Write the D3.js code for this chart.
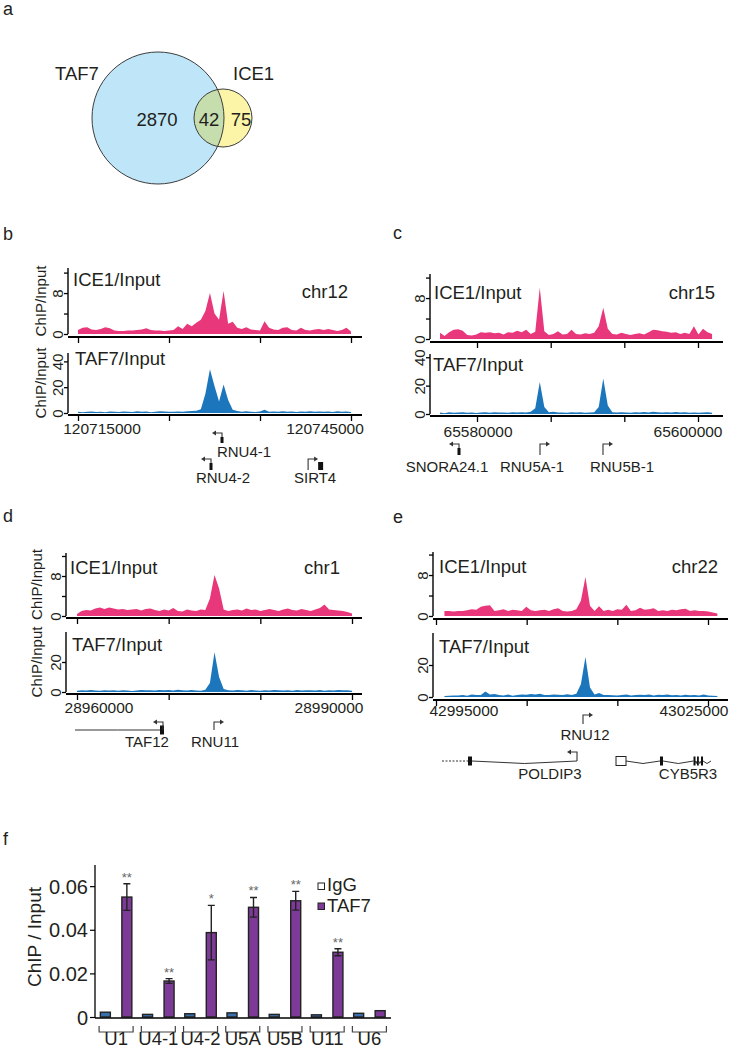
<!DOCTYPE html>
<html><head><meta charset="utf-8">
<script src="https://d3js.org/d3.v7.min.js"></script>
<style>
html,body{margin:0;padding:0;background:#fff}
svg{display:block}
text{font-family:"Liberation Sans",Arial,Helvetica,sans-serif;fill:#231f20}
</style></head><body>
<svg id="fig" width="730" height="1050"></svg>
<script>
// ================= DATA =================
// a: Venn diagram
const vennNames = ["TAF7", "ICE1"];
const vennOnly = [2870, 75];
const vennShared = 42;

// b: chr12
const bTicks = [120711770, 120724010, 120736250, 120748490];
const bLabels = [120715000, 120745000];
const bData = [120711770, 120748490];
const bICE1 = [0.8,1.2,1.3,0.9,0.8,1.0,1.3,1.1,0.7,0.6, 0.6,0.7,0.7,0.8,0.9,1.1,0.8,0.7,0.7,0.6, 0.7,0.8,1.5,1.0,2.0,1.5,2.2,2.8,4.5,8.0, 4.0,2.8,8.4,2.0,2.4,1.2,1.0,1.3,0.9,0.8, 0.7,2.5,1.2,0.9,0.8,1.2,1.3,0.8,0.7,1.2, 0.8,0.7,0.9,1.0,0.8,1.0,0.8,0.6,0.8,1.2, 0.5];
const bTAF7 = [1,0.5,1,1.2,0.8,1,0.6,1.1,1,0.7, 1.2,1,0.8,1.3,1,1.1,0.6,1,1.4,1.2, 1,0.9,1.2,1,1.3,1.5,1.8,3,15,34, 21,9,22,10,2.5,1.5,1,1.3,1,0.8, 1.2,2.5,1,1.1,0.9,1.3,1,1.2,0.8,1.1, 1,1.3,0.9,1.2,1,1.1,0.8,1.3,1,1.2, 0.7];
const bGenes = [
  {name:"RNU4-1", tss:120731140, strand:-1, row:0, label:120734100, type:"snRNA"},
  {name:"RNU4-2", tss:120729660, strand:-1, row:1, label:120731280, type:"snRNA"},
  {name:"SIRT4", tss:120742720, strand:1, row:1, label:120743660, type:"tss", blocks:[[120744070,120744740]]}
];

// c: chr15
const cTicks = [65579900, 65586920, 65593930, 65600950];
const cLabels = [65580000, 65600000];
const cData = [65576380, 65602290];
const cICE1 = [1.2,0.6,1.3,1.8,1.9,1.6,0.8,0.7,0.9,1.3, 1.2,1.3,1.1,1.2,0.9,1.3,1.2,1.6,1.3,1.8, 1.0,1.4,10.0,1.5,0.8,1.0,1.5,0.9,1.0,1.8, 1.0,0.9,1.1,1.0,1.2,2.5,6.1,2.0,1.0,0.9, 1.2,1.0,0.8,1.0,1.1,0.9,1.3,1.8,1.7,1.5, 1.4,1.2,1.3,1.0,1.2,1.0,2.5,0.9,2.0,1.3, 1.0];
const cTAF7 = [1,0.5,1.2,0.8,1,1.3,0.9,1,0.7,1.1, 1.2,0.9,1.3,1,1.1,0.8,1.2,1,1.3,1, 1.5,4,22.5,5,1.2,1.5,1,1.1,0.9,1.3, 1,1.2,0.8,1.1,1.3,5,25,6,1.2,1, 1.3,1.1,0.9,1.2,1,1.4,1.1,1.5,1.2,1, 1.3,1.1,1.4,1,1.2,0.9,1.1,0.8,1,1.2, 0.8];
const cGenes = [
  {name:"SNORA24.1", tss:65578186, strand:-1, row:0, label:65577043, type:"snRNA"},
  {name:"RNU5A-1", tss:65585900, strand:1, row:0, label:65585138, type:"tss"},
  {name:"RNU5B-1", tss:65591900, strand:1, row:0, label:65593710, type:"tss"}
];

// d: chr1
const dTicks = [28957130, 28969087, 28981043, 28993000];
const dLabels = [28960000, 28990000];
const dData = [28957130, 28993000];
const dICE1 = [0.4,1.0,1.2,1.1,1.5,1.7,1.4,1.7,1.5,1.3, 1.4,1.2,1.3,1.4,1.1,1.4,1.5,1.2,1.0,1.3, 1.1,1.6,1.0,0.9,1.3,1.1,1.0,1.3,1.2,3.5, 8.2,5.5,1.3,1.0,1.2,1.3,1.1,1.5,1.2,1.3, 1.0,1.2,1.4,1.2,1.0,1.3,1.5,1.2,1.1,1.4, 1.2,1.0,1.3,1.6,2.3,1.3,1.2,1.1,1.0,0.8, 0.5];
const dTAF7 = [0.8,1.2,1,1.3,1,0.9,1.2,1,1.1,0.8, 1.2,1,0.7,1,1.3,1.1,1.2,1,1.4,1.2, 1.3,1,1.5,1.2,1,1.3,1,0.9,1.5,6, 26.5,10,2,1.2,1,1.3,1.1,0.9,1.4,1, 0.8,1.2,1,1.3,1.1,1,1.2,0.9,1.3,1, 1.2,1.1,1,1.3,0.9,1.2,1,1.3,1.1,1.2, 0.9];
const dGenes = [
  {name:"TAF12", tss:28968348, strand:-1, row:0, label:28966260, type:"model", span:[28956869,28968348], blocks:[[28967956,28968478]], chevron:false},
  {name:"RNU11", tss:28975000, strand:1, row:0, label:28975130, type:"tss"}
];

// e: chr22
const eTicks = [42991350, 43003177, 43015003, 43026830];
const eLabels = [42995000, 43025000];
const eData = [42992450, 43028050];
const eICE1 = [1.0,1.0,0.9,1.0,1.0,1.1,1.3,1.2,1.8,2.0, 2.1,1.0,1.1,1.3,1.0,1.2,1.1,1.0,1.8,1.1, 1.0,1.1,1.2,1.0,1.3,1.5,1.0,0.9,1.0,1.3, 3.0,7.6,2.0,1.0,1.9,1.0,1.2,1.0,1.3,1.2, 2.2,1.0,1.1,1.6,1.2,1.3,1.5,1.0,1.1,1.0, 1.2,1.1,1.3,1.4,1.0,1.1,1.0,1.0,0.9,0.7, 0.5];
const eTAF7 = [0.7,0.8,1,0.9,1.2,0.8,1.5,1.2,1.3,3.5, 1.5,1.8,1.2,1,1.6,0.8,1.3,1.5,1.4,1.8, 1.5,2,1.3,1.2,1.6,1.4,1.2,1.7,1.3,2, 8,25,6,1.5,2.5,1.2,1.3,1.1,1,1.2, 1.5,1,1.3,1.4,1.2,1.5,1,1.4,1.3,1.5, 1.1,1.2,1,1.4,1.1,1.3,0.9,1.5,1,0.8, 0.6];
const eGenes = [
  {name:"RNU12", tss:43010525, strand:1, row:0, label:43010786, type:"tss"},
  {name:"POLDIP3", tss:43009743, strand:-1, row:1, label:43006221, type:"model", span:[42995524,43009743], dashed:[42992133,42995524], blocks:[[42995524,42996046]], chevron:true},
  {name:"CYB5R3", tss:null, strand:0, row:1, label:43024222, type:"model", span:[43014830,43027224], open:[[43014830,43016135]], blocks:[[43020569,43020960],[43024940,43025200],[43025397,43025593],[43025919,43026180]], chevron:true}
];

// f: ChIP-qPCR
const fGroups = ["U1","U4-1","U4-2","U5A","U5B","U11","U6"];
const fSeries = ["IgG","TAF7"];
const fIgG = [0.0022,0.0012,0.0015,0.0019,0.0012,0.0010,0.0017];
const fIgGErr = [0.0003,0.0002,0.0002,0.0003,0.0002,0.0002,0.0002];
const fTAF7 = [0.0550,0.0165,0.0387,0.0503,0.0533,0.0297,0.0029];
const fTAF7Err = [0.0061,0.0011,0.0125,0.0045,0.0043,0.0016,0.0002];
const fStars = ["**","**","*","**","**","**",""];
const fYTicks = [0, 0.02, 0.04, 0.06];

// ================= DRAWING =================
const svg = d3.select("#fig");
const INK = "#231f20", PINK = "#e8377a", BLUE = "#1c76bc", PURPLE = "#7e3a97", IGG = "#3a6fae";

// panel letters
const letters = [["a",3,15],["b",3,240],["c",393,239],["d",3,522],["e",393,523],["f",3,845]];
svg.selectAll("text.letter").data(letters).join("text").attr("class","letter")
  .attr("x", d=>d[1]).attr("y", d=>d[2]).attr("font-size", 18).text(d=>d[0]);

// ---------- a: Venn ----------
(function(){
  const r = d3.scalePow().exponent(0.256).domain([0, vennOnly[0]+vennShared]).range([0, 66]);
  const rBig = r(vennOnly[0]+vennShared), rSmall = r(vennOnly[1]+vennShared);
  const cb = [158,118], cs = [223,118];
  const g = svg.append("g");
  g.append("clipPath").attr("id","smallClip").append("circle").attr("cx",cs[0]).attr("cy",cs[1]).attr("r",rSmall);
  g.append("circle").attr("cx",cb[0]).attr("cy",cb[1]).attr("r",rBig).attr("fill","#bfe6f8");
  g.append("circle").attr("cx",cs[0]).attr("cy",cs[1]).attr("r",rSmall).attr("fill","#fcf5a8");
  g.append("circle").attr("cx",cb[0]).attr("cy",cb[1]).attr("r",rBig).attr("fill","#c6deae").attr("clip-path","url(#smallClip)");
  g.append("circle").attr("cx",cb[0]).attr("cy",cb[1]).attr("r",rBig).attr("fill","none").attr("stroke","#3d3d3d").attr("stroke-width",1);
  g.append("circle").attr("cx",cs[0]).attr("cy",cs[1]).attr("r",rSmall).attr("fill","none").attr("stroke","#3d3d3d").attr("stroke-width",1);
  const fs = 18.5;
  g.append("text").attr("x",55).attr("y",80).attr("font-size",fs).text(vennNames[0]);
  g.append("text").attr("x",233).attr("y",80).attr("font-size",fs).text(vennNames[1]);
  g.append("text").attr("x",157).attr("y",126).attr("text-anchor","middle").attr("font-size",fs).text(vennOnly[0]);
  g.append("text").attr("x",209).attr("y",126).attr("text-anchor","middle").attr("font-size",fs).text(vennShared);
  g.append("text").attr("x",241).attr("y",126).attr("text-anchor","middle").attr("font-size",fs).text(vennOnly[1]);
})();

// ---------- b-e: tracks ----------
function drawPanel(P){
  const g = svg.append("g");
  const x = d3.scaleLinear().domain([P.ticks[0], P.ticks[P.ticks.length-1]]).range(P.tickPx);
  P.tracks.forEach((T, ti) => {
    const y = d3.scaleLinear().domain([0, T.ymax]).range([T.zero, T.top]);
    const n = T.values.length;
    const pos = d3.range(n).map(i => P.data[0] + i*(P.data[1]-P.data[0])/(n-1));
    g.append("path").datum(T.values)
      .attr("d", d3.area().x((d,i)=>x(pos[i])).y0(y(0)).y1(d=>y(d)))
      .attr("fill", T.color);
    // y axis
    const ya = g.append("g").attr("transform", `translate(${P.axisX},0)`)
      .call(d3.axisLeft(y).tickValues(T.yTicks).tickSize(4).tickFormat(d => T.yLabels.includes(d) ? d : ""));
    ya.select(".domain").remove();
    ya.append("line").attr("y1", y(0)).attr("y2", y(T.ymax)).attr("stroke","#000").attr("stroke-width",1.4);
    ya.selectAll(".tick line").attr("stroke","#000").attr("stroke-width",1.3);
    ya.selectAll(".tick text").attr("x",0).attr("dy",0).attr("text-anchor","middle")
      .attr("transform","translate(-5,0) rotate(-90)").attr("font-size",15);
    // x axis
    const xa = g.append("g").attr("transform", `translate(0,${T.xAxisY})`)
      .call(d3.axisBottom(x).tickValues(P.ticks).tickSize(6).tickFormat(""));
    xa.select(".domain").remove();
    xa.selectAll(".tick line").attr("stroke","#000").attr("stroke-width",1.3);
    xa.append("line").attr("x1", P.axisX).attr("x2", P.axisRight).attr("stroke","#000").attr("stroke-width",1.8);
    // track label
    g.append("text").attr("x", T.labelX).attr("y", T.labelY).attr("font-size",18.5).text(T.name);
    if (P.yTitleX) {
      g.append("text").attr("transform", `translate(${P.yTitleX},${(y(0)+y(T.ymax))/2}) rotate(-90)`)
        .attr("text-anchor","middle").attr("font-size",15).text("ChIP/Input");
    }
  });
  g.append("text").attr("x", P.chrX).attr("y", P.chrY).attr("text-anchor","end").attr("font-size",18.5).text(P.chr);
  // genomic coordinate labels
  g.selectAll("text.gl").data(P.labels).join("text").attr("class","gl")
    .attr("x", d=>x(d)).attr("y", P.labelY).attr("text-anchor","middle").attr("font-size",15.5).text(d=>d);
  // genes
  const STK = "#333";
  P.genes.forEach(G => {
    const R = P.rows[G.row];
    const gg = g.append("g");
    if (G.type === "model") {
      if (G.dashed) gg.append("line").attr("x1",x(G.dashed[0])).attr("x2",x(G.dashed[1])).attr("y1",R.b).attr("y2",R.b)
        .attr("stroke",STK).attr("stroke-width",1).attr("stroke-dasharray","2,1.5");
      const feats = [].concat(G.open||[], G.blocks||[]).sort((a,b)=>a[0]-b[0]);
      const pts = [];
      let prev = G.span[0];
      feats.forEach(f => { if (f[0] > prev) pts.push([prev, f[0]]); prev = Math.max(prev, f[1]); });
      if (G.span[1] > prev) pts.push([prev, G.span[1]]);
      pts.forEach(s => {
        const x1 = x(s[0]), x2 = x(s[1]);
        const dip = G.chevron ? 2.5 : 0;
        gg.append("path").attr("d", `M${x1},${R.b}L${(x1+x2)/2},${R.b+dip}L${x2},${R.b}`)
          .attr("fill","none").attr("stroke",STK).attr("stroke-width",1);
      });
      (G.open||[]).forEach(f => gg.append("rect").attr("x",x(f[0])).attr("y",R.b-4.5).attr("width",x(f[1])-x(f[0])).attr("height",9)
        .attr("fill","#fff").attr("stroke","#222").attr("stroke-width",1));
      (G.blocks||[]).forEach(f => gg.append("rect").attr("x",x(f[0])).attr("y",R.b-4.5).attr("width",Math.max(1.8,x(f[1])-x(f[0]))).attr("height",9)
        .attr("fill","#111"));
    }
    if (G.type === "tss" && G.blocks) {
      G.blocks.forEach(f => gg.append("rect").attr("x",x(f[0])).attr("y",R.a+3).attr("width",x(f[1])-x(f[0])).attr("height",R.b-R.a-3).attr("fill","#111"));
    }
    if (G.tss !== null && G.strand !== 0) {
      const sx = x(G.tss), s = G.strand;
      gg.append("path").attr("d", `M${sx},${R.b}V${R.a}H${sx+s*7}`).attr("fill","none").attr("stroke",STK).attr("stroke-width",1.1);
      gg.append("path").attr("d", `M${sx+s*6},${R.a-2.5}L${sx+s*10},${R.a}L${sx+s*6},${R.a+2.5}Z`).attr("fill",STK);
      if (G.type === "snRNA") gg.append("rect").attr("x",sx-1.5).attr("y",R.a+4).attr("width",3).attr("height",R.b-R.a-4).attr("fill","#111");
    }
    g.append("text").attr("x", x(G.label)).attr("y", R.l).attr("text-anchor","middle").attr("font-size",15).text(G.name);
  });
}

drawPanel({
  ticks:bTicks, tickPx:[78,351], data:bData, labels:bLabels, labelY:434, axisX:68, axisRight:362,
  chr:"chr12", chrX:348, chrY:298, yTitleX:46, genes:bGenes,
  rows:[{a:433,b:443,l:457},{a:459,b:470,l:483}],
  tracks:[
    {name:"ICE1/Input", values:bICE1, color:PINK, ymax:12.9, zero:334, top:268, yTicks:[0,4,8,12], yLabels:[0,8], xAxisY:337, labelX:73, labelY:286},
    {name:"TAF7/Input", values:bTAF7, color:BLUE, ymax:46.5, zero:413, top:353, yTicks:[0,20,40], yLabels:[0,20,40], xAxisY:415, labelX:75, labelY:365}
  ]
});
drawPanel({
  ticks:cTicks, tickPx:[477,698], data:cData, labels:cLabels, labelY:437, axisX:430, axisRight:723,
  chr:"chr15", chrX:715, chrY:299, yTitleX:null, genes:cGenes,
  rows:[{a:444,b:455,l:472}],
  tracks:[
    {name:"ICE1/Input", values:cICE1, color:PINK, ymax:12.7, zero:339, top:274, yTicks:[0,4,8,12], yLabels:[0,8], xAxisY:342, labelX:434, labelY:299},
    {name:"TAF7/Input", values:cTAF7, color:BLUE, ymax:42.3, zero:414, top:354, yTicks:[0,20,40], yLabels:[0,20,40], xAxisY:416, labelX:433, labelY:371}
  ]
});
drawPanel({
  ticks:dTicks, tickPx:[77,352], data:dData, labels:dLabels, labelY:713, axisX:66, axisRight:362,
  chr:"chr1", chrX:340, chrY:574, yTitleX:42, genes:dGenes,
  rows:[{a:722,b:730,l:747}],
  tracks:[
    {name:"ICE1/Input", values:dICE1, color:PINK, ymax:12.6, zero:616, top:553, yTicks:[0,4,8,12], yLabels:[0,8], xAxisY:618, labelX:70, labelY:574},
    {name:"TAF7/Input", values:dTAF7, color:BLUE, ymax:40, zero:692, top:632, yTicks:[0,20], yLabels:[0,20], xAxisY:694, labelX:72, labelY:651}
  ]
});
drawPanel({
  ticks:eTicks, tickPx:[436,708], data:eData, labels:eLabels, labelY:716, axisX:433, axisRight:728,
  chr:"chr22", chrX:718, chrY:573, yTitleX:null, genes:eGenes,
  rows:[{a:715,b:724,l:740},{a:752,b:761,l:779}],
  tracks:[
    {name:"ICE1/Input", values:eICE1, color:PINK, ymax:12.5, zero:616, top:552, yTicks:[0,4,8,12], yLabels:[0,8], xAxisY:619, labelX:439, labelY:573},
    {name:"TAF7/Input", values:eTAF7, color:BLUE, ymax:40, zero:697, top:633, yTicks:[0,20], yLabels:[0,20], xAxisY:700, labelX:439, labelY:653}
  ]
});

// ---------- f: bar chart ----------
(function(){
  const g = svg.append("g");
  const x = d3.scaleBand().domain(fGroups).range([95, 390.5]);
  const sub = d3.scaleBand().domain(fSeries).range([-21.5, 21.5]);
  const y = d3.scaleLinear().domain([0, 0.0697]).range([1017, 865]);
  const barW = 10;
  const series = [fIgG, fTAF7], errs = [fIgGErr, fTAF7Err], fills = [IGG, PURPLE];
  fSeries.forEach((s, si) => {
    g.selectAll(null).data(fGroups).join("rect")
      .attr("x", d => x(d) + x.bandwidth()/2 + sub(s) + sub.bandwidth()/2 - barW/2)
      .attr("y", (d,i) => y(series[si][i]))
      .attr("width", barW)
      .attr("height", (d,i) => y(0) - y(series[si][i]))
      .attr("fill", fills[si]).attr("stroke","#222").attr("stroke-width",1.4);
  });
  fSeries.forEach((s, si) => {
    fGroups.forEach((d, i) => {
      const cx = x(d) + x.bandwidth()/2 + sub(s) + sub.bandwidth()/2;
      const v = series[si][i], e = errs[si][i];
      if (si === 1 && e > 0.0005) {
        g.append("path").attr("d", `M${cx},${y(v-e)}V${y(v+e)}M${cx-3.5},${y(v+e)}H${cx+3.5}M${cx-3.5},${y(v-e)}H${cx+3.5}`)
          .attr("stroke","#222").attr("stroke-width",1.4).attr("fill","none");
      }
    });
  });
  g.selectAll("text.star").data(fGroups).join("text").attr("class","star")
    .attr("x", d => x(d) + x.bandwidth()/2 + sub("TAF7") + sub.bandwidth()/2)
    .attr("y", (d,i) => y(fTAF7[i] + fTAF7Err[i]) - 2)
    .attr("text-anchor","middle").attr("font-size",13).style("fill","#666")
    .text((d,i) => fStars[i]);
  const ya = g.append("g").attr("transform","translate(95,0)")
    .call(d3.axisLeft(y).tickValues(fYTicks).tickSize(5).tickPadding(2).tickFormat(d => d === 0 ? "0" : d3.format(".2f")(d)));
  ya.select(".domain").remove();
  ya.append("line").attr("y1", y(0)+1).attr("y2", 865).attr("stroke","#000").attr("stroke-width",1.3);
  ya.selectAll(".tick line").attr("stroke","#000").attr("stroke-width",1.2);
  ya.selectAll(".tick text").attr("font-size",20).attr("dy","0.36em");
  g.append("line").attr("x1",95).attr("x2",391).attr("y1",1018).attr("y2",1018).attr("stroke","#000").attr("stroke-width",1.6);
  fGroups.forEach(d => {
    const c = x(d) + x.bandwidth()/2;
    g.append("path").attr("d", `M${c-17},1026V1032H${c+17}V1026`).attr("fill","none").attr("stroke","#444").attr("stroke-width",1.2);
  });
  g.selectAll("text.grp").data(fGroups).join("text").attr("class","grp")
    .attr("x", d => x(d) + x.bandwidth()/2).attr("y", 1045).attr("text-anchor","middle").attr("font-size",18.5).text(d=>d);
  g.append("text").attr("transform","translate(41,937) rotate(-90)").attr("text-anchor","middle").attr("font-size",19).text("ChIP / Input");
  const lg = g.append("g");
  fSeries.forEach((s, i) => {
    lg.append("rect").attr("x",318).attr("y",883 + i*20).attr("width",6.5).attr("height",6.5)
      .attr("fill", i === 0 ? "#fff" : PURPLE).attr("stroke","#222").attr("stroke-width",1);
    lg.append("text").attr("x",327).attr("y",891 + i*21).attr("font-size",18.5).text(s);
  });
})();
</script>
</body></html>
